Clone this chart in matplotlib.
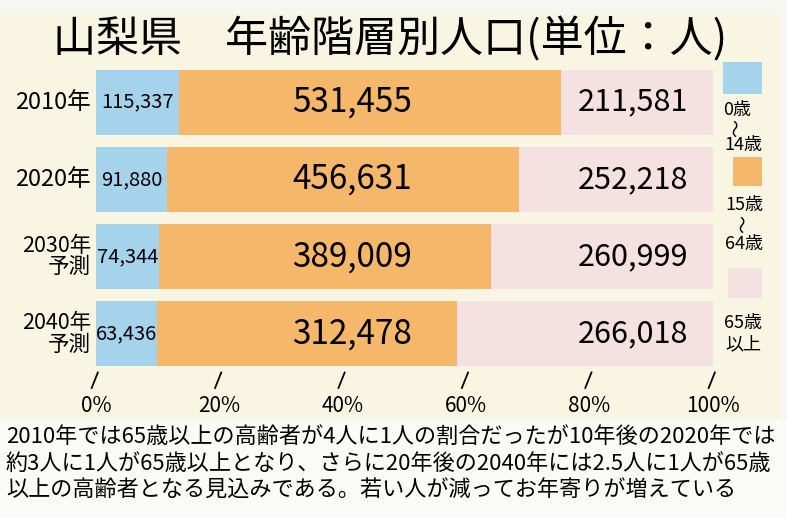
import numpy as np
import matplotlib
matplotlib.use("Agg")
from matplotlib import pyplot as plt
from matplotlib.patches import Rectangle

plt.rcParams['font.family'] = ['Noto Sans CJK JP', 'DejaVu Sans']

# data (people)
years = ["2010年", "2020年", "2030年\n予測", "2040年\n予測"]
age_0_14 = [115337, 91880, 74344, 63436]
age_15_64 = [531455, 456631, 389009, 312478]
age_65_up = [211581, 252218, 260999, 266018]
label_0_14 = ["115,337", "91,880", "74,344", "63,436"]
label_15_64 = ["531,455", "456,631", "389,009", "312,478"]
label_65_up = ["211,581", "252,218", "260,999", "266,018"]
pct_ticks = [0, 20, 40, 60, 80, 100]

colors = ["#a5d3ec", "#f5b86b", "#f6e1e2"]
cream = "#f8f6e3"

W, H = 787, 518
fig = plt.figure(figsize=(W / 100, H / 100), dpi=100, facecolor="#f6f6f3")

# cream board + white comment strip
fig.patches.append(Rectangle((0, 98 / H), 780 / W, 1 - 98 / H - 14 / H,
                             transform=fig.transFigure, facecolor=cream, edgecolor="none", zorder=-2))
fig.patches.append(Rectangle((0, 0), 1, 98 / H, transform=fig.transFigure,
                             facecolor="#fafaf8", edgecolor="none", zorder=-2))

ax = fig.add_axes([96 / W, (H - 372.5) / H, (713 - 96) / W, (372.5 - 63.5) / H])
ax.set_zorder(5)
ax.set_facecolor("none")

a = np.array(age_0_14, dtype=float)
b = np.array(age_15_64, dtype=float)
c = np.array(age_65_up, dtype=float)
tot = a + b + c
pa, pb, pc = a / tot * 100, b / tot * 100, c / tot * 100
y = np.arange(len(years))

ax.barh(y, pa, height=0.84, color=colors[0])
ax.barh(y, pb, left=pa, height=0.84, color=colors[1])
ax.barh(y, pc, left=pa + pb, height=0.84, color=colors[2])

for i in range(len(years)):
    ax.text(pa[i] / 2, y[i], label_0_14[i], ha="center", va="center", fontsize=14.5)
    ax.text(41.5, y[i], label_15_64[i], ha="center", va="center", fontsize=24)
    ax.text(96, y[i], label_65_up[i], ha="right", va="center", fontsize=22)
    ax.text(-0.8, y[i], years[i], ha="right", va="center", fontsize=17 if i < 2 else 15.5,
            linespacing=0.95)

ax.set_xlim(0, 100)
ax.set_ylim(len(years) - 0.5, -0.5)
ax.set_yticks([])
ax.set_xticks(pct_ticks)
ax.set_xticklabels([f"{t}%" for t in pct_ticks], fontsize=15)
ax.tick_params(axis="x", length=0, pad=16)
for s in ax.spines.values():
    s.set_visible(False)

# hand-drawn slanted tick marks
for t in pct_ticks:
    ax.plot([t + 0.3, t - 0.7], [3.5, 3.7], color="black", lw=1.3, clip_on=False)

fig.text(390 / W, 1 - 40 / H, "山梨県　年齢階層別人口(単位：人)", ha="center", va="center",
         fontsize=31)

# legend
legend_boxes = [(723, 62, 762, 94), (733, 157, 762, 186), (728, 268, 762, 298)]
for (x0, y0, x1, y1), col in zip(legend_boxes, colors):
    fig.patches.append(Rectangle((x0 / W, 1 - y1 / H), (x1 - x0) / W, (y1 - y0) / H,
                                 transform=fig.transFigure, facecolor=col, edgecolor="none"))
legend_texts = [("0歳", 737, 110), ("〜", 737, 128), ("14歳", 743, 145),
                ("15歳", 744, 205), ("〜", 744, 224), ("64歳", 744, 244),
                ("65歳", 743, 323), ("以上", 743, 344)]
for txt, lx, ly in legend_texts:
    fig.text(lx / W, 1 - ly / H, txt, ha="center", va="center", fontsize=13,
             rotation=90 if txt == "〜" else 0)

comment = ["2010年では65歳以上の高齢者が4人に1人の割合だったが10年後の2020年では",
           "約3人に1人が65歳以上となり、さらに20年後の2040年には2.5人に1人が65歳",
           "以上の高齢者となる見込みである。若い人が減ってお年寄りが増えている"]
for k, line in enumerate(comment):
    fig.text(6 / W, 1 - (437 + 27 * k) / H, line, ha="left", va="center", fontsize=15.9)

fig.savefig("out.png", dpi=100, facecolor=fig.get_facecolor())
